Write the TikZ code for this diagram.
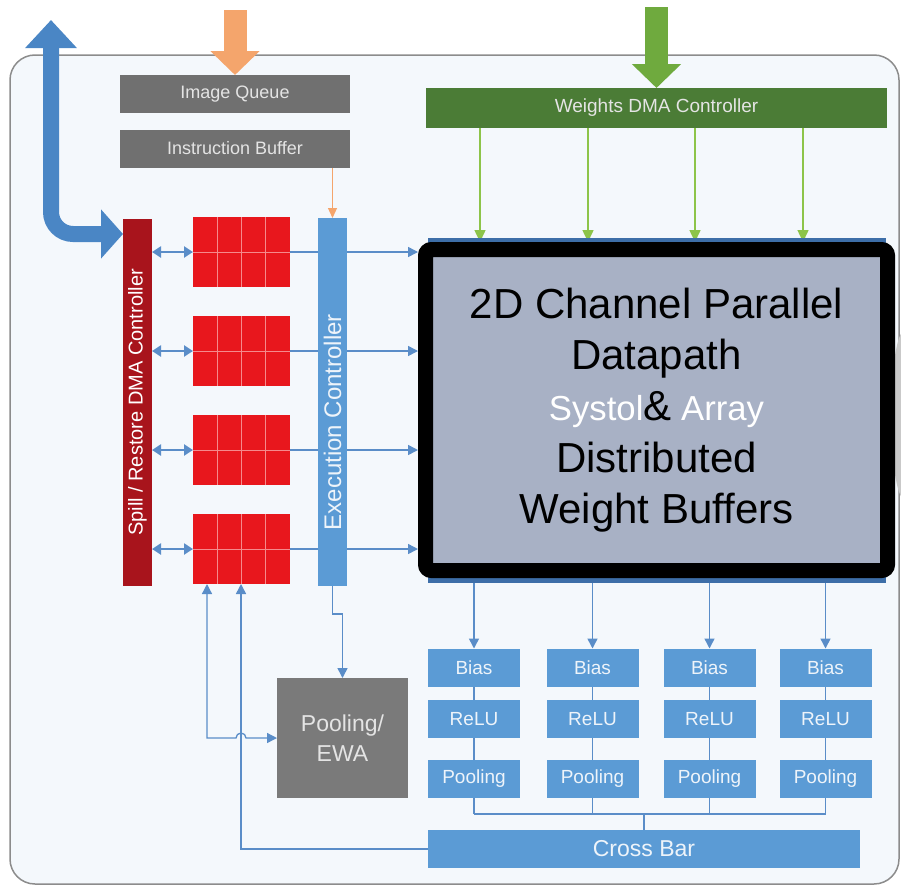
\documentclass[tikz,border=0pt]{standalone}
\usepackage{fontspec}
\usepackage{graphicx}
\setmainfont{Liberation Sans}
\usetikzlibrary{arrows.meta,calc}
\pgfdeclarelayer{bgA}
\pgfdeclarelayer{bgB}
\pgfsetlayers{bgA,bgB,main}
\definecolor{panelbg}{HTML}{F4F8FC}
\definecolor{panelline}{HTML}{8C8C8C}
\definecolor{gboxc}{HTML}{707070}
\definecolor{gtxt}{HTML}{E4E4E4}
\definecolor{wdmac}{HTML}{4B7C36}
\definecolor{wgreen}{HTML}{8DC449}
\definecolor{biggreen}{HTML}{6FAA3E}
\definecolor{orng}{HTML}{F4A56C}
\definecolor{blu}{HTML}{5B9BD5}
\definecolor{bigblu}{HTML}{4A86C5}
\definecolor{lineblu}{HTML}{5A8DC8}
\definecolor{spillc}{HTML}{A8141C}
\definecolor{bufred}{HTML}{E8171D}
\definecolor{bufgrid}{HTML}{F58A8C}
\definecolor{cfill}{HTML}{A8B1C5}
\definecolor{poolg}{HTML}{7A7A7A}
\definecolor{behindc}{HTML}{3D6EA8}
\definecolor{sidegray}{HTML}{C9C9C9}
\definecolor{btxt}{HTML}{EEF4FA}
\begin{document}
\begin{tikzpicture}[x=1pt,y=-1pt,
  basebox/.style={inner sep=0pt, outer sep=0pt, draw=none},
  gbox/.style={basebox, fill=gboxc, text=gtxt, minimum width=230pt, minimum height=38pt, font=\fontsize{18}{20}\selectfont},
  wbox/.style={basebox, fill=wdmac, text=gtxt, minimum width=461pt, minimum height=40pt, font=\fontsize{19}{21}\selectfont},
  cbox/.style={draw=black, line width=15pt, rounded corners=6pt, fill=cfill, minimum width=462pt, minimum height=321pt, inner sep=0pt, align=center, font=\fontsize{42}{51.25}\selectfont},
  spillbox/.style={basebox, fill=spillc, text=white, minimum width=29pt, minimum height=367pt, font=\fontsize{20}{22}\selectfont},
  bufbox/.style={basebox, fill=bufred, minimum width=97pt, minimum height=70pt},
  execbox/.style={basebox, fill=blu, text=btxt, minimum width=29pt, minimum height=368pt, font=\fontsize{24}{26}\selectfont},
  poolbox/.style={basebox, fill=poolg, text=gtxt, minimum width=131pt, minimum height=120pt, align=center, font=\fontsize{23}{30}\selectfont},
  bbox/.style={basebox, fill=blu, text=btxt, minimum width=92pt, minimum height=38pt, font=\fontsize{19}{21}\selectfont},
  thinarr/.style={draw=lineblu, line width=1.5pt, -{Triangle[length=10pt,width=10pt]}},
  thinline/.style={draw=lineblu, line width=1.3pt},
  dblarr/.style={draw=lineblu, line width=2.5pt, {Triangle[length=9pt,width=11pt]}-{Triangle[length=9pt,width=11pt]}},
  greenarr/.style={draw=wgreen, line width=1.5pt, -{Triangle[length=12pt,width=11pt]}},
  orangearr/.style={draw=orng, line width=1.2pt, -{Triangle[length=10pt,width=9pt]}},
  bigarr/.style={line width=23pt, -{Triangle[length=24pt,width=48pt]}},
  bigblue/.style={draw=bigblu, line width=16pt, rounded corners=22pt, {Triangle[length=28pt,width=50pt]}-{Triangle[length=22pt,width=48pt]}}
]
\useasboundingbox (0,0) rectangle (901,886);

% panel
\begin{pgfonlayer}{bgA}
\draw[panelline, line width=1.5pt, fill=panelbg, rounded corners=25pt] (10,55) rectangle (899,884);
\end{pgfonlayer}

% side gray shape
\begin{scope}
\clip (0,0) rectangle (901,886);
\fill[sidegray] (905,415) ellipse [x radius=14pt, y radius=85pt];
\end{scope}

% nodes
\node[gbox] (iq) at (235,94) {Image Queue};
\node[gbox] (ib) at (235,148.5) {Instruction Buffer};
\node[wbox] (wd) at (656.5,108) {Weights DMA Controller};
\fill[behindc] (428,238) rectangle (886,583);
\node[cbox] (cent) at (656.5,410) {2D Channel Parallel\\Datapath\\{\color{white}\fontsize{34.7}{51.25}\selectfont Systol}\&{\color{white}\fontsize{34.7}{51.25}\selectfont{} Array}\\Distributed\\Weight Buffers};
\node[spillbox] (sp) at (137.5,402.5) {\rotatebox{90}{Spill / Restore DMA Controller}};
\foreach \n/\yy in {1/252,2/351,3/450,4/549}
  \node[bufbox] (b\n) at (241.5,\yy) {};
\foreach \bn in {b1,b2,b3,b4}{
  \foreach \i in {1,2,3}
    \draw[bufgrid, line width=1pt] ($(\bn.north west)!\i/4!(\bn.north east)$) -- ($(\bn.south west)!\i/4!(\bn.south east)$);
  \draw[bufgrid, line width=1pt] (\bn.west) -- (\bn.east);
}
\node[execbox] (ex) at (332.5,402) {\rotatebox{90}{Execution Controller\hspace*{40pt}}};
\node[poolbox] (pe) at (342.5,738) {Pooling/\\EWA};
\foreach \n/\xx in {1/474,2/592.5,3/709.5,4/825.5}{
  \node[bbox] (bias\n) at (\xx,667.5) {Bias};
  \node[bbox] (relu\n) at (\xx,719) {ReLU};
  \node[bbox] (pool\n) at (\xx,779) {Pooling};
}
\node[bbox, minimum width=432pt, font=\fontsize{23}{25}\selectfont] (cb) at (644,849) {Cross Bar};

% helper coordinates
\coordinate (bbtop) at (51,20);
\coordinate (otop) at (235,10);
\coordinate (gtop) at (656.5,7);
\coordinate (xa) at (207,0);
\coordinate (xb) at (241,0);
\coordinate (busy) at (0,814);
\foreach \n/\xx in {1/480,2/588,3/695,4/803}
  \coordinate (g\n) at (\xx,0);

% connectors
\begin{pgfonlayer}{bgB}
\draw[bigblue] (bbtop) |- ([yshift=-15pt]sp.north west);
\draw[bigarr, draw=orng] (otop) -- (iq.north);
\draw[bigarr, draw=biggreen] (gtop) -- (wd.north);
\draw[orangearr] (ib.south -| ex.north) -- (ex.north);
\foreach \n in {1,2,3,4}{
  \draw[greenarr] (wd.south -| g\n) -- (cent.north -| g\n);
  \draw[dblarr] (sp.east |- b\n.west) -- (b\n.west);
  \draw[thinarr] (b\n.east) -- (b\n.east -| cent.west);
  \draw[thinarr] (cent.south -| bias\n) -- (bias\n.north);
  \draw[thinline] (bias\n) -- (relu\n) -- (pool\n);
  \draw[thinline] (pool\n.south) -- (pool\n.south |- busy);
}
\draw[thinline] (pool1.south |- busy) -- (pool4.south |- busy);
\draw[thinline] (cb.north) -- (cb.north |- busy);
\draw[thinarr] (ex.south) -- ++(0,28) -| (pe.north);
\draw[thinline, {Triangle[length=10pt,width=10pt]}-{Triangle[length=10pt,width=10pt]}]
  (b4.south -| xa) -- (pe.west -| xa) -- ([xshift=-5pt]pe.west -| xb) arc[start angle=180, end angle=0, radius=5pt] -- (pe.west);
\draw[thinarr] (cb.west) -- (cb.west -| xb) -- (b4.south -| xb);
\end{pgfonlayer}
\end{tikzpicture}
\end{document}
